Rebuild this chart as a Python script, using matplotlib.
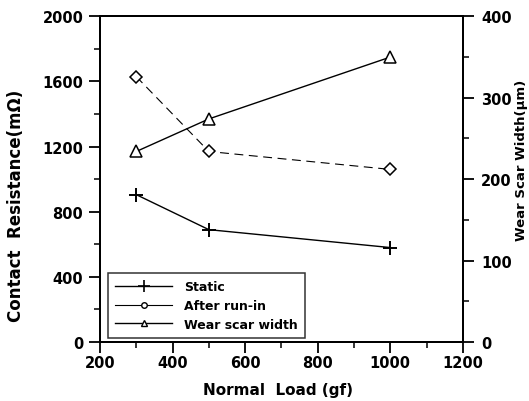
import matplotlib
matplotlib.use('Agg')
import matplotlib.pyplot as plt
from matplotlib.lines import Line2D

plt.rcParams['font.family'] = ['DejaVu Sans']
plt.rcParams['font.weight'] = 'bold'

load = [300, 500, 1000]
static = [905, 690, 580]
after_runin = [1630, 1170, 1060]
wear_width = [234, 274, 350]

fig = plt.figure(figsize=(5.29, 4.02), dpi=100)
ax = fig.add_axes([0.189, 0.1468, 0.686, 0.81])

ax.plot(load, static, color='black', lw=1.0, marker='+', ms=10, mew=1.4)
ax.plot(load, after_runin, color='black', lw=0.8, ls=(0, (8, 5)), marker='D', ms=6,
        mfc='white', mew=1.1)
ax.set_xlim(200, 1200)
ax.set_ylim(0, 2000)
ax.set_xticks([200, 400, 600, 800, 1000, 1200])
ax.set_xticks(range(300, 1200, 200), minor=True)
ax.set_yticks([0, 400, 800, 1200, 1600, 2000])
ax.set_yticks([200, 600, 1000, 1400, 1800], minor=True)
ax.tick_params(direction='out', length=8, width=1.3, labelsize=10.5, pad=4)
ax.tick_params(axis='x', pad=1.5)
ax.tick_params(which='minor', direction='out', length=4, width=1.1)
ax.set_xlabel('Normal  Load (gf)', fontsize=11, fontweight='bold')
ax.xaxis.set_label_coords(0.49, -0.122)
ax.set_ylabel('Contact  Resistance(m\u03a9)', fontsize=12, fontweight='bold')
ax.yaxis.set_label_coords(-0.207, 0.42)

ax2 = ax.twinx()
ax2.plot(load, wear_width, color='black', lw=1.0, marker='^', ms=8, mfc='white', mew=1.1)
ax2.set_ylim(0, 400)
ax2.set_yticks([0, 100, 200, 300, 400])
ax2.set_yticks([50, 150, 250, 350], minor=True)
ax2.tick_params(direction='out', length=8, width=1.3, labelsize=10.5, pad=5)
ax2.tick_params(which='minor', direction='out', length=4, width=1.1)
ax2.set_ylabel('Wear Scar Width(\u03bcm)', fontsize=9.5, fontweight='bold')
ax2.yaxis.set_label_coords(1.145, 0.56)

for a in (ax, ax2):
    for s in a.spines.values():
        s.set_linewidth(1.4)

handles = [
    Line2D([], [], color='black', lw=1.0, marker='+', ms=8, mew=1.2),
    Line2D([], [], color='black', lw=0.8, marker='o', ms=4, mfc='white', mew=1.0),
    Line2D([], [], color='black', lw=1.0, marker='^', ms=5, mfc='white', mew=1.0),
]
leg = ax.legend(handles, ['Static', 'After run-in', 'Wear scar width'],
                loc='lower left', bbox_to_anchor=(0.022, 0.012), borderaxespad=0,
                fontsize=9, frameon=True, fancybox=False, edgecolor='black',
                handlelength=4.5, handletextpad=1.0, borderpad=0.6, labelspacing=0.45)
leg.get_frame().set_linewidth(1.1)

fig.savefig('out.png', dpi=100)
